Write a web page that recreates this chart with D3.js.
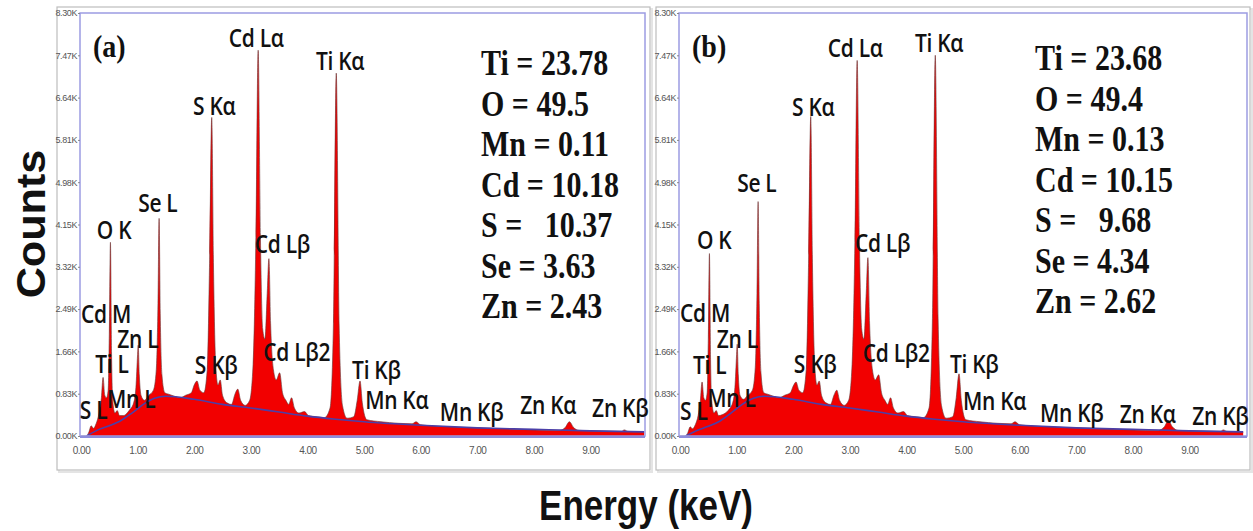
<!DOCTYPE html>
<html><head><meta charset="utf-8">
<script src="https://cdn.jsdelivr.net/npm/d3@7"></script>
<style>body{margin:0;background:#fff} svg{display:block}</style>
</head><body><svg id="c" width="1253" height="531"></svg>
<script>
// ---------- data (energy in keV, counts in thousands) ----------
const energyA = [0.00,0.10,0.14,0.18,0.22,0.27,0.32,0.36,0.39,0.42,0.45,0.48,0.50,0.52,0.54,0.56,0.60,0.64,0.68,0.75,0.85,0.93,0.97,1.00,1.01,1.03,1.06,1.12,1.20,1.28,1.33,1.36,1.38,1.40,1.43,1.48,1.55,1.65,1.75,1.85,1.95,2.00,2.05,2.10,2.17,2.23,2.27,2.31,2.34,2.38,2.42,2.46,2.50,2.58,2.66,2.72,2.77,2.82,2.90,2.98,3.04,3.09,3.13,3.17,3.21,3.25,3.29,3.32,3.35,3.40,3.45,3.51,3.56,3.62,3.67,3.72,3.77,3.85,3.95,4.02,4.15,4.30,4.40,4.46,4.51,4.56,4.62,4.70,4.82,4.88,4.93,4.97,5.05,5.30,5.60,5.85,5.92,6.00,6.50,7.00,7.50,8.00,8.45,8.55,8.63,8.70,8.80,9.20,9.55,9.60,9.66,9.95];
const countsA = [0,0,0.08,0.20,0.15,0.25,0.45,0.75,1.15,0.80,0.75,0.90,2.00,3.80,1.60,0.70,0.45,0.50,0.40,0.40,0.50,0.65,0.95,1.60,1.78,1.20,0.80,0.70,0.80,0.90,1.30,2.60,4.27,2.40,1.20,0.85,0.82,0.78,0.75,0.80,0.85,1.00,1.08,0.90,0.85,1.30,3.30,6.25,3.40,1.40,1.00,1.10,0.80,0.65,0.62,0.82,0.92,0.70,0.60,0.70,1.40,3.90,7.57,3.90,2.10,1.90,2.80,3.48,2.20,1.30,1.10,1.24,0.85,0.70,0.62,0.75,0.55,0.45,0.48,0.40,0.38,0.36,0.55,2.20,7.12,2.20,0.60,0.35,0.38,0.70,1.08,0.65,0.32,0.28,0.25,0.24,0.28,0.22,0.18,0.16,0.14,0.12,0.11,0.16,0.28,0.17,0.11,0.10,0.09,0.12,0.09,0.08];
const energyB = energyA;
const countsB = [0,0,0.07,0.18,0.14,0.22,0.40,0.70,1.06,0.75,0.70,0.85,1.90,3.58,1.50,0.70,0.45,0.50,0.40,0.42,0.50,0.65,0.95,1.60,1.80,1.20,0.80,0.72,0.80,0.90,1.35,2.80,4.60,2.60,1.25,0.85,0.82,0.78,0.75,0.80,0.85,0.98,1.06,0.90,0.85,1.30,3.30,6.27,3.40,1.40,1.00,1.08,0.80,0.65,0.62,0.80,0.90,0.70,0.60,0.70,1.40,3.80,7.37,3.80,2.10,1.90,2.80,3.50,2.20,1.30,1.10,1.20,0.85,0.70,0.62,0.75,0.55,0.45,0.48,0.40,0.38,0.36,0.55,2.30,7.47,2.30,0.60,0.35,0.38,0.75,1.22,0.70,0.32,0.28,0.25,0.24,0.28,0.22,0.18,0.16,0.14,0.12,0.11,0.17,0.30,0.18,0.11,0.10,0.09,0.12,0.09,0.08];
const bgEnergy = [0.10,0.30,0.50,0.70,0.90,1.10,1.30,1.50,2.00,2.50,3.00,3.50,4.00,4.50,5.00,6.00,7.00,8.00,9.00,9.95];
const bgCountsA = [0,0.12,0.20,0.30,0.45,0.62,0.74,0.78,0.72,0.62,0.55,0.47,0.39,0.33,0.28,0.21,0.16,0.13,0.10,0.08];
const bgCountsB = [0,0.11,0.19,0.29,0.45,0.62,0.74,0.78,0.72,0.62,0.55,0.47,0.39,0.33,0.28,0.21,0.16,0.13,0.10,0.08];
const yTicks = [0,0.83,1.66,2.49,3.32,4.15,4.98,5.81,6.64,7.47,8.30];
const xTicks = [0,1,2,3,4,5,6,7,8,9];
const peakNames = ["Cd Lα","Ti Kα","S Kα","Se L","O K","Cd Lβ","Cd M","Zn L","Ti L","S Kβ","Cd Lβ2","Mn L","S L","Ti Kβ","Mn Kα","Mn Kβ","Zn Kα","Zn Kβ"];
// label anchor in data units (left edge energy, baseline counts)
const labelEA = [2.61,4.15,1.98,1.01,0.28,3.07,0.00,0.64,0.25,2.01,3.22,0.46,-0.02,4.79,5.02,6.34,7.76,9.03];
const labelCA = [7.63,7.18,6.29,4.39,3.87,3.60,2.22,1.73,1.24,1.22,1.48,0.55,0.33,1.12,0.53,0.30,0.43,0.37];
const labelEB = [2.61,4.15,1.98,1.01,0.30,3.09,0.00,0.65,0.23,2.01,3.23,0.48,0.00,4.77,5.00,6.36,7.77,9.05];
const labelCB = [7.43,7.53,6.27,4.78,3.66,3.62,2.24,1.73,1.22,1.24,1.46,0.57,0.31,1.24,0.51,0.28,0.26,0.22];
const compA = ["Ti = 23.78","O = 49.5","Mn = 0.11","Cd = 10.18","S =   10.37","Se = 3.63","Zn = 2.43"];
const compB = ["Ti = 23.68","O = 49.4","Mn = 0.13","Cd = 10.15","S =   9.68","Se = 4.34","Zn = 2.62"];

// ---------- layout ----------
const svg = d3.select("#c");
const panels = [
  {tag:"(a)", E:energyA, C:countsA, bg:bgCountsA, lE:labelEA, lC:labelCA, comp:compA,
   box:[57,7,650,470], plot:[80,13,645,436], xr:[81,647], compX:481, compY:75},
  {tag:"(b)", E:energyB, C:countsB, bg:bgCountsB, lE:labelEB, lC:labelCB, comp:compB,
   box:[656,7,1250,470], plot:[679,13,1247,436], xr:[680,1246], compX:1035, compY:70}
];

panels.forEach((p,i) => {
  const g = svg.append("g");
  const [bx0,by0,bx1,by1] = p.box, [px0,py0,px1,py1] = p.plot;
  g.append("rect").attr("x",bx0+2).attr("y",by0+2).attr("width",bx1-bx0).attr("height",by1-by0)
    .attr("fill","none").attr("stroke","#e4e4e4").attr("stroke-width",2);
  g.append("rect").attr("x",bx0).attr("y",by0).attr("width",bx1-bx0).attr("height",by1-by0)
    .attr("fill","#fff").attr("stroke","#bdbdbd").attr("stroke-width",1.2);

  const x = d3.scaleLinear().domain([0,10]).range(p.xr);
  const y = d3.scaleLinear().domain([0,8.30]).range([py1,py0]);

  const clipId = "clip"+i;
  svg.append("clipPath").attr("id",clipId).append("rect")
    .attr("x",px0).attr("y",py0).attr("width",px1-px0).attr("height",py1-py0);

  const pts = p.E.map((e,k)=>[e,p.C[k]]);
  const area = d3.area().x(d=>x(d[0])).y0(y(0)).y1(d=>y(d[1])).curve(d3.curveMonotoneX);
  const line = d3.line().x(d=>x(d[0])).y(d=>y(d[1])).curve(d3.curveMonotoneX);
  const pg = g.append("g").attr("clip-path",`url(#${clipId})`);
  pg.append("path").datum(pts).attr("d",area).attr("fill","#f20000");
  pg.append("path").datum(pts).attr("d",line).attr("fill","none")
    .attr("stroke","#6b3a3a").attr("stroke-width",0.9).attr("stroke-opacity",0.7);
  const bpts = bgEnergy.map((e,k)=>[e,p.bg[k]]);
  pg.append("path").datum(bpts).attr("d",line).attr("fill","none")
    .attr("stroke","#4b3fa8").attr("stroke-width",1.6);

  g.append("rect").attr("x",px0).attr("y",py0).attr("width",px1-px0).attr("height",py1-py0)
    .attr("fill","none").attr("stroke","#9c9ce2").attr("stroke-width",1.5);
  g.append("line").attr("x1",px0).attr("x2",px1).attr("y1",py1+1).attr("y2",py1+1)
    .attr("stroke","#8c8cdc").attr("stroke-width",2);

  const ya = d3.axisLeft(y).tickValues(yTicks).tickFormat(d=>d.toFixed(2)+"K").tickSize(2).tickPadding(1);
  const yg = g.append("g").attr("transform",`translate(${px0},0)`).call(ya);
  yg.select(".domain").remove();
  yg.selectAll("line").attr("stroke","#888");
  yg.selectAll("text").attr("font-family","'Liberation Sans Narrow','Liberation Sans',sans-serif")
    .attr("font-size",9).attr("fill","#555").attr("letter-spacing",-0.4);
  const xa = d3.axisBottom(x).tickValues(xTicks).tickFormat(d=>d.toFixed(2)).tickSize(0).tickPadding(11);
  const xg = g.append("g").attr("transform",`translate(0,${py1})`).call(xa);
  xg.select(".domain").remove();
  xg.selectAll("text").attr("font-family","'Liberation Sans Narrow','Liberation Sans',sans-serif")
    .attr("font-size",10).attr("fill","#555").attr("letter-spacing",-0.5);

  g.append("text").attr("transform",`translate(${px0+13},57) scale(1,1.15)`)
    .attr("font-family","'Liberation Serif','Times New Roman',serif").attr("font-weight","bold")
    .attr("font-size",28).attr("fill","#111").text(p.tag);

  g.selectAll(".pk").data(peakNames).enter().append("text")
    .attr("transform",(d,k)=>`translate(${x(p.lE[k])},${y(p.lC[k])}) scale(1,1.18)`)
    .attr("font-family","'Open Sans','Noto Sans',sans-serif").attr("font-weight",600)
    .attr("font-size",21).attr("fill","#111").attr("letter-spacing",-0.3)
    .text(d=>d);

  g.selectAll(".cp").data(p.comp).enter().append("text")
    .attr("transform",(d,k)=>`translate(${p.compX},${p.compY+k*40.5}) scale(1,1.22)`)
    .attr("font-family","'Liberation Serif','Times New Roman',serif").attr("font-weight","bold")
    .attr("font-size",30).attr("fill","#111").style("white-space","pre").text(d=>d);
});

svg.append("text").attr("transform","translate(45,224) rotate(-90) scale(1.08,1)")
  .attr("text-anchor","middle").attr("font-family","'Liberation Sans',Arial,sans-serif")
  .attr("font-weight","bold").attr("font-size",40).attr("fill","#111").text("Counts");
svg.append("text").attr("transform","translate(646,520) scale(1,1.2)")
  .attr("text-anchor","middle").attr("font-family","'Liberation Sans',Arial,sans-serif")
  .attr("font-weight","bold").attr("font-size",35).attr("fill","#111").text("Energy (keV)");
</script></body></html>
